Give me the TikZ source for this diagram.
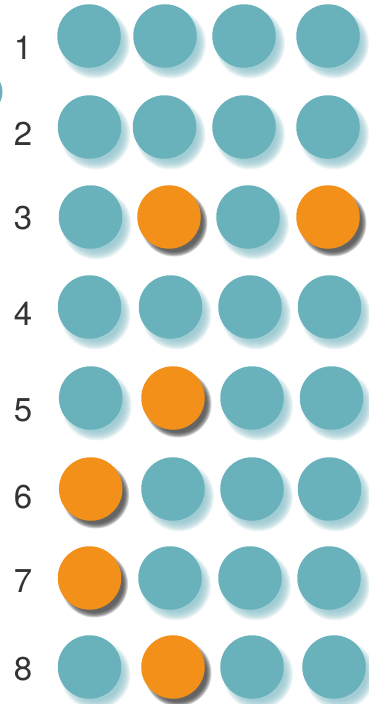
\documentclass[tikz,border=0pt]{standalone}
\usepackage{fontspec}
\setmainfont{TeX Gyre Heros}
\definecolor{tealc}{RGB}{105,178,188}
\definecolor{tealsh}{RGB}{140,195,204}
\definecolor{orangec}{RGB}{242,144,26}
\definecolor{greysh}{RGB}{60,60,60}
\tikzset{
  tealdot/.style={circle, fill=tealc, minimum size=63.5pt, inner sep=0pt},
  orangedot/.style={circle, fill=orangec, minimum size=63.5pt, inner sep=0pt},
  rowlabel/.style={font=\fontsize{33}{33}\selectfont, text=black!80, inner sep=0pt}
}
\newcommand\mydotT[3]{%
  \foreach \k in {0,...,9} \fill[tealsh, opacity=0.14] (#2+6,#3+7.5) circle ({35-\k*1.0});
  \node[tealdot] (#1) at (#2,#3) {};
}
\newcommand\mydotO[3]{%
  \foreach \k in {0,...,6} \fill[greysh, opacity=0.2] (#2+5,#3+6) circle ({33.5-\k*0.8});
  \node[orangedot] (#1) at (#2,#3) {};
}
\begin{document}
\begin{tikzpicture}[x=1pt,y=-1pt]
\useasboundingbox[fill=white] (0,0) rectangle (369,704);
% stray edge mark
\begin{scope}
\clip (0,0) rectangle (369,704);
\fill[tealc] (-20,92) circle (22.5);
\end{scope}
% labels
\node[rowlabel] (l1) at (23,48) {1};
\node[rowlabel] (l2) at (23,134) {2};
\node[rowlabel] (l3) at (23,218) {3};
\node[rowlabel] (l4) at (23,314) {4};
\node[rowlabel] (l5) at (23,410) {5};
\node[rowlabel] (l6) at (23,497) {6};
\node[rowlabel] (l7) at (23,581) {7};
\node[rowlabel] (l8) at (23,669) {8};
% row 1
\mydotT{r1a}{89}{36}\mydotT{r1b}{165}{36}\mydotT{r1c}{244}{36}\mydotT{r1d}{328}{36}
% row 2
\mydotT{r2a}{89.5}{127}\mydotT{r2b}{164.5}{127}\mydotT{r2c}{244}{127}\mydotT{r2d}{328}{127}
% row 3
\mydotT{r3a}{90.5}{217}\mydotO{r3b}{169}{217}\mydotT{r3c}{248}{217}\mydotO{r3d}{328}{217}
% row 4
\mydotT{r4a}{89.5}{307}\mydotT{r4b}{170.5}{307}\mydotT{r4c}{250}{307}\mydotT{r4d}{329.5}{307}
% row 5
\mydotT{r5a}{90.7}{398}\mydotO{r5b}{173}{398}\mydotT{r5c}{252}{398}\mydotT{r5d}{331.5}{398}
% row 6
\mydotO{r6a}{90.7}{489}\mydotT{r6b}{173}{489}\mydotT{r6c}{252}{489}\mydotT{r6d}{329.5}{489}
% row 7
\mydotO{r7a}{89.5}{578}\mydotT{r7b}{170}{578}\mydotT{r7c}{250}{578}\mydotT{r7d}{329}{578}
% row 8
\mydotT{r8a}{89.5}{667}\mydotO{r8b}{173}{667}\mydotT{r8c}{252}{667}\mydotT{r8d}{334}{667}
\end{tikzpicture}
\end{document}
